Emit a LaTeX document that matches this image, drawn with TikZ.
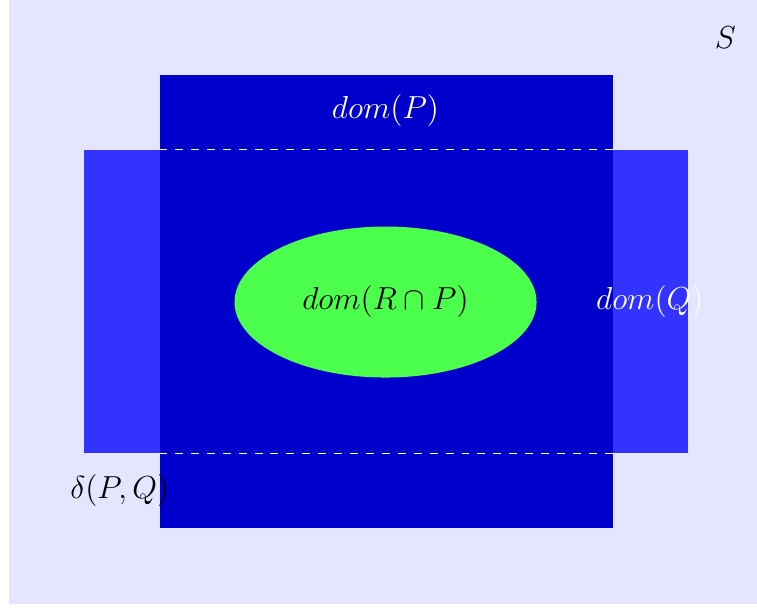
\documentclass[tikz,border=0pt]{standalone}
\usepackage{amsmath,amssymb}
\usepackage{xcolor}
\usetikzlibrary{positioning,shapes.geometric}

\begin{document}
\begin{tikzpicture}[
    font=\large,
    region/.style={draw=none, inner sep=0pt, anchor=south west},
    bg/.style={region, fill=blue!10, minimum width=9.92cm, minimum height=8cm},
    domp/.style={region, fill=blue!80!black, minimum width=6cm, minimum height=6cm},
    domq/.style={region, fill=blue!80, minimum width=8cm, minimum height=4cm},
    inner/.style={ellipse, fill=green!70, draw=none, minimum width=4cm, minimum height=2cm, inner sep=0pt},
    lbl/.style={inner sep=1pt},
    cut/.style={draw=white, dashed}
  ]
    \useasboundingbox (-0.106,-0.04) rectangle (9.92,8);
    \node[bg] (s) at (0,0) {};
    \node[domq] (q) at (1,2) {};
    \node[domp] (p) at (2,1) {};

    \node[inner] (rp) at (5,4) {\(dom(R\cap P)\)};

    \coordinate (tl) at (p.west |- q.north);
    \coordinate (tr) at (p.east |- q.north);
    \coordinate (bl) at (p.west |- q.south);
    \coordinate (br) at (p.east |- q.south);
    \draw[cut] (tl) -- (tr);
    \draw[cut] (bl) -- (br);

    \node[lbl] (ls) at (9.5,7.5) {\(S\)};
    \node[lbl, text=white] (lp) at (5,6.54) {\(dom(P)\)};
    \node[lbl, text=white] (lq) at (8.5,4) {\(dom(Q)\)};
    \node[lbl] (ld) at (1.48,1.5) {\(\delta(P,Q)\)};
  \end{tikzpicture}
\end{document}
